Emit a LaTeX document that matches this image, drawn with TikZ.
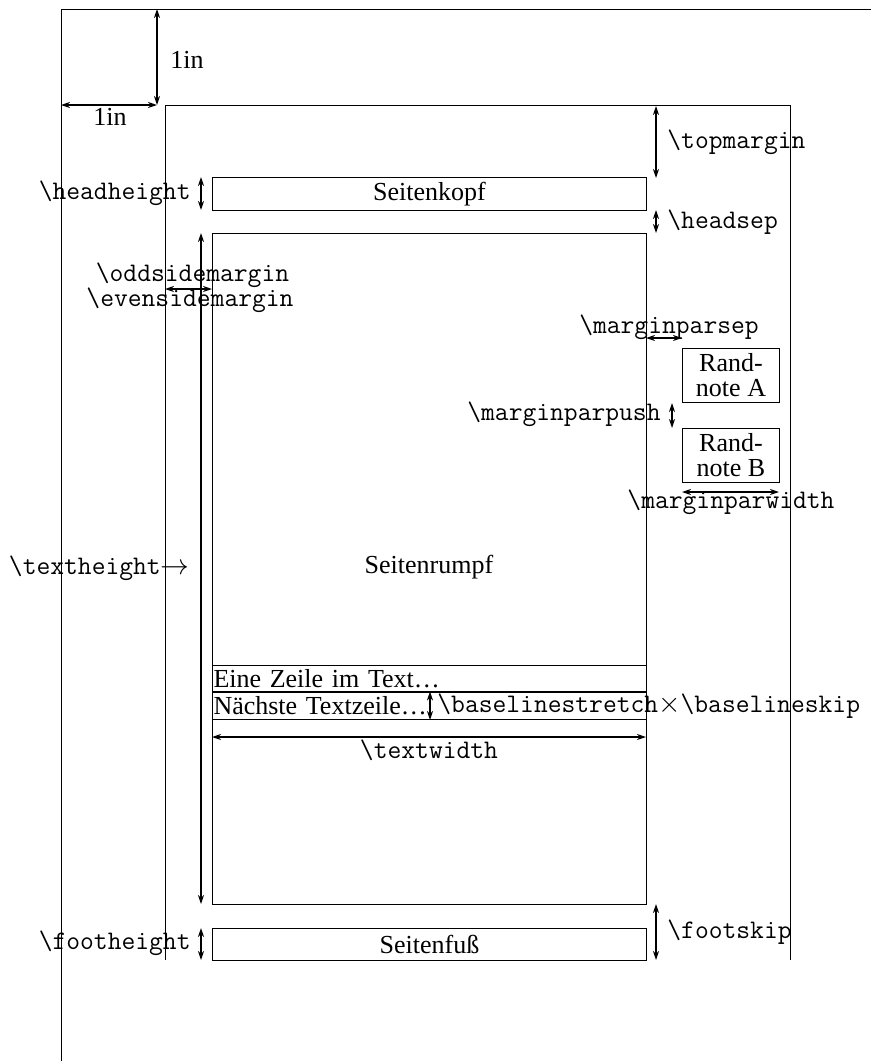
\documentclass[tikz,border=0pt]{standalone}
\usepackage{fontspec}
\setmainfont{Liberation Serif}
\usetikzlibrary{arrows.meta}
\begin{document}
\begin{tikzpicture}[x=0.5pt,y=-0.5pt,
  frame/.style={line width=0.5pt},
  dim/.style={{Stealth[length=4.5pt,width=3pt]}-{Stealth[length=4.5pt,width=3pt]}, line width=0.7pt},
  lbl/.style={inner sep=0pt, font=\fontsize{13}{15}\selectfont},
  tlbl/.style={inner sep=0pt, font=\fontsize{13.4}{15}\selectfont\ttfamily},
  box/.style={draw, line width=0.5pt, inner sep=0pt, anchor=north west, font=\fontsize{13}{12.5}\selectfont},
  linebox/.style={box, minimum width=217pt, text width=216pt, inner xsep=0.5pt, align=left}]
\useasboundingbox (0,0) rectangle (871,1061);
% paper and page frames
\draw[frame] (61,1061) -- (61,9) -- (871,9);
\draw[frame] (165,960) -- (165,105) -- (790,105) -- (790,960);
% boxes
\node[box, minimum width=217pt, minimum height=16.5pt] (head) at (212,177) {Seitenkopf};
\node[box, minimum width=217pt, minimum height=335.5pt] (body) at (212,233) {};
\node[lbl] (rumpf) at (429,567) {Seitenrumpf};
\node[box, minimum width=217pt, minimum height=16pt] (foot) at (212,928) {Seitenfuß};
\node[box, minimum width=48.5pt, minimum height=27pt, align=center] (noteA) at (682,348) {Rand-\\note A};
\node[box, minimum width=48.5pt, minimum height=27pt, align=center] (noteB) at (682,428) {Rand-\\note B};
\node[linebox, minimum height=12.75pt] (line1) at (212,665) {Eine Zeile im Text\ldots};
\node[linebox, minimum height=13.75pt] (line2) at (212,691.5) {Nächste Textzeile\ldots};
% coordinates
\coordinate (paperTL) at (61,9);
\coordinate (inA) at (157,9);
\coordinate (inB) at (157,105);
\coordinate (inC) at (61,105);
\coordinate (osL) at (165,289);
\coordinate (tmT) at (656,106);
\coordinate (tmB) at (656,178);
\coordinate (hsT) at (656,210);
\coordinate (hsB) at (656,233);
\coordinate (fsT) at (656,904);
\coordinate (fsB) at (656,960);
% dimension arrows
\draw[dim] (inA) -- (inB);
\draw[dim] (inC) -- (inB);
\draw[dim] (201,177) -- (201,210);
\draw[dim] (201,233) -- (201,904);
\draw[dim] (osL) -- (osL -| body.west);
\draw[dim] (tmT) -- (tmB);
\draw[dim] (hsT) -- (hsB);
\draw[dim] (646,338) -- (682,338);
\draw[dim] (noteA.south -| 672,0) -- (noteB.north -| 672,0);
\draw[dim] (682,492) -- (779,492);
\draw[dim] (line2.north -| 430,0) -- (line2.south -| 430,0);
\draw[dim] (212,737) -- (646,737);
\draw[dim] (201,928) -- (201,960);
\draw[dim] (fsT) -- (fsB);
% labels
\node[lbl, anchor=west] (l1) at (170,60) {1in};
\node[lbl] (l2) at (110,117) {1in};
\node[tlbl, anchor=east] (lhh) at (191,193) {\textbackslash headheight};
\node[tlbl] (los) at (192.5,275) {\textbackslash oddsidemargin};
\node[tlbl] (les) at (190,300) {\textbackslash evensidemargin};
\node[tlbl, anchor=west] (ltm) at (667,142) {\textbackslash topmargin};
\node[tlbl, anchor=west] (lhs) at (667,222) {\textbackslash headsep};
\node[tlbl] (lms) at (669,327) {\textbackslash marginparsep};
\node[tlbl, anchor=east] (lmp) at (661,414) {\textbackslash marginparpush};
\node[tlbl] (lmw) at (731,502) {\textbackslash marginparwidth};
\node[tlbl, anchor=east] (lth) at (190,568) {\textbackslash textheight$\rightarrow$};
\node[tlbl, anchor=west] (lbs) at (437,706) {\textbackslash baselinestretch$\times$\textbackslash baselineskip};
\node[tlbl] (ltw) at (429,750) {\textbackslash textwidth};
\node[tlbl, anchor=east] (lfh) at (191,943) {\textbackslash footheight};
\node[tlbl, anchor=west] (lfs) at (667,932) {\textbackslash footskip};
\end{tikzpicture}
\end{document}
